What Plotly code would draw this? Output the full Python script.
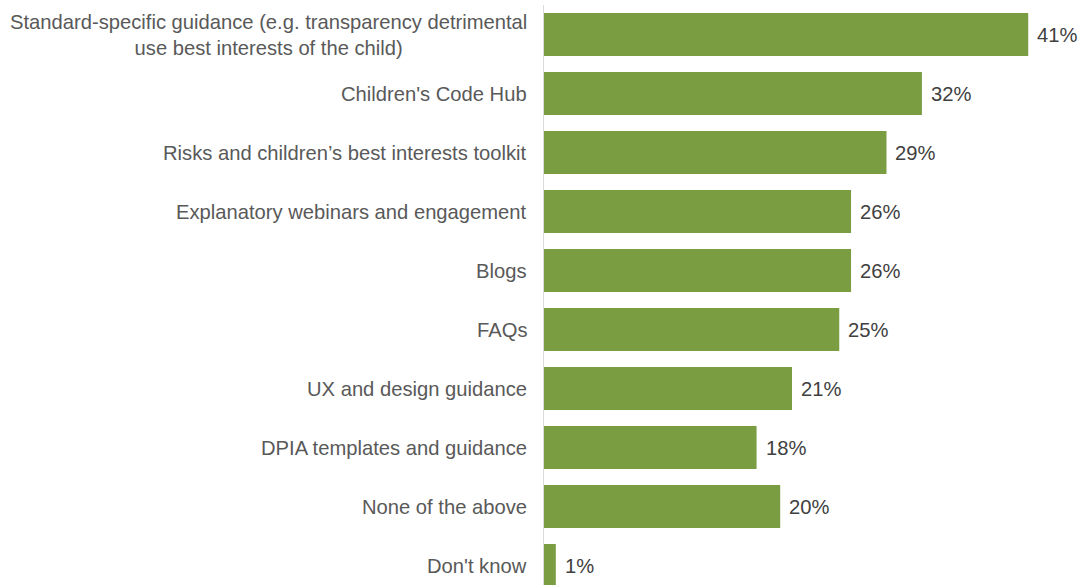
import plotly.graph_objects as go

# Survey responses: share of respondents who found each resource useful
categories = [
    "Standard-specific guidance (e.g. transparency detrimental<br>use best interests of the child)",
    "Children's Code Hub",
    "Risks and children\u2019s best interests toolkit",
    "Explanatory webinars and engagement",
    "Blogs",
    "FAQs",
    "UX and design guidance",
    "DPIA templates and guidance",
    "None of the above",
    "Don't know",
]
values = [41, 32, 29, 26, 26, 25, 21, 18, 20, 1]
value_labels = [f"{v}%" for v in values]

BAR_COLOR = "#7A9D42"
LABEL_COLOR = "#595959"
VALUE_COLOR = "#404040"
FONT = "Liberation Sans, Arial, sans-serif"
FONT_SIZE = 20.2

positions = list(range(len(categories)))

fig = go.Figure(
    go.Bar(
        x=values,
        y=positions,
        orientation="h",
        marker=dict(color=BAR_COLOR, line=dict(width=0)),
        width=0.73,
        hoverinfo="skip",
    )
)

annotations = []
# Category labels, right-aligned to the axis, multi-line text centred
for pos, cat in zip(positions, categories):
    annotations.append(
        dict(
            x=0, xref="paper", y=pos, yref="y",
            text=cat, showarrow=False,
            xanchor="right", yanchor="middle", align="center",
            xshift=-15,
            font=dict(family=FONT, size=FONT_SIZE, color=LABEL_COLOR),
        )
    )
# Value labels just past the end of each bar
for pos, v, lab in zip(positions, values, value_labels):
    annotations.append(
        dict(
            x=v, xref="x", y=pos, yref="y",
            text=lab, showarrow=False,
            xanchor="left", yanchor="middle",
            xshift=7,
            font=dict(family=FONT, size=FONT_SIZE, color=VALUE_COLOR),
        )
    )

fig.update_layout(
    width=1079,
    height=585,
    margin=dict(l=544, r=0, t=5, b=0),
    paper_bgcolor="white",
    plot_bgcolor="white",
    showlegend=False,
    annotations=annotations,
    xaxis=dict(
        range=[0, 45.3],
        showgrid=False,
        zeroline=False,
        showline=False,
        showticklabels=False,
        fixedrange=True,
    ),
    yaxis=dict(
        range=[9.33, -0.5],
        showgrid=False,
        zeroline=False,
        showline=True,
        linecolor="#D9D9D9",
        linewidth=1,
        showticklabels=False,
        ticks="",
        fixedrange=True,
    ),
)

fig.write_html("out.html", config={"displayModeBar": False})
